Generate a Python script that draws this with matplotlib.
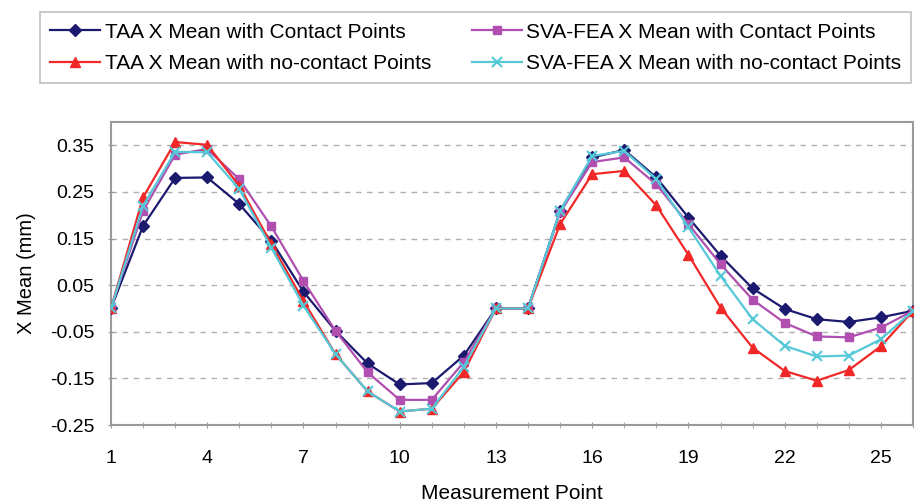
import matplotlib.pyplot as plt
import numpy as np

plt.rcParams['font.family'] = ['Liberation Sans', 'DejaVu Sans']

points = list(range(1, 27))
xticks = [1, 4, 7, 10, 13, 16, 19, 22, 25]
yticks = [0.35, 0.25, 0.15, 0.05, -0.05, -0.15, -0.25]

taa_contact = [0, 0.177, 0.280, 0.281, 0.224, 0.145, 0.036, -0.048, -0.118, -0.163,
               -0.160, -0.101, 0, 0, 0.209, 0.324, 0.340, 0.281, 0.195, 0.113,
               0.043, -0.001, -0.023, -0.029, -0.019, -0.005]
sva_contact = [0, 0.209, 0.330, 0.342, 0.277, 0.176, 0.059, -0.048, -0.137, -0.196,
               -0.196, -0.115, 0, 0, 0.206, 0.314, 0.324, 0.266, 0.181, 0.095,
               0.019, -0.031, -0.060, -0.062, -0.041, -0.005]
taa_nocontact = [0, 0.238, 0.357, 0.351, 0.263, 0.138, 0.016, -0.098, -0.178, -0.221,
                 -0.215, -0.136, 0, 0, 0.181, 0.288, 0.295, 0.221, 0.115, 0.002,
                 -0.084, -0.134, -0.155, -0.132, -0.081, -0.005]
sva_nocontact = [0, 0.220, 0.336, 0.335, 0.256, 0.130, 0.006, -0.098, -0.178, -0.221,
                 -0.215, -0.125, 0, 0, 0.209, 0.327, 0.338, 0.277, 0.174, 0.070,
                 -0.023, -0.080, -0.103, -0.101, -0.066, -0.005]

fig = plt.figure(figsize=(9.14, 5.04), dpi=100)
ax = fig.add_axes([0.1214, 0.1567, 0.8775, 0.6013])

l1, = ax.plot(points, taa_contact, color='#1c1a6e', marker='D', markersize=6, lw=1.6, zorder=3)
l3, = ax.plot(points, sva_contact, color='#b04fb0', marker='s', markersize=6, lw=1.6, zorder=3)
l2, = ax.plot(points, taa_nocontact, color='#f02828', marker='^', markersize=7, lw=1.6, zorder=3)
l4, = ax.plot(points, sva_nocontact, color='#55c8d8', marker='x', markersize=7, mew=1.5, lw=1.6, zorder=3)

ax.set_xlim(1, 26)
ax.set_ylim(-0.25, 0.40)
ax.set_xticks(xticks)
ax.set_xticks(points, minor=True)
ax.set_yticks(yticks)
ax.set_yticklabels(['%.2f' % v for v in yticks])
ax.tick_params(axis='both', which='both', labelsize=14, color='#999999', length=4, direction='inout')
ax.tick_params(axis='x', pad=16)
ax.tick_params(axis='y', pad=10)

for v in yticks[:-1]:
    ax.axhline(v, color='#b0b0b0', lw=1, ls=(0, (4, 4)), zorder=1)

for s in ax.spines.values():
    s.set_color('#9a9a9a')
    s.set_linewidth(1.5)

ax.set_xlabel('Measurement Point', fontsize=15, labelpad=12)
ax.set_ylabel('X Mean (mm)', fontsize=14.5, labelpad=10)

leg = fig.legend([l1, l2, l3, l4],
                 ['TAA X Mean with Contact Points', 'TAA X Mean with no-contact Points',
                  'SVA-FEA X Mean with Contact Points', 'SVA-FEA X Mean with no-contact Points'],
                 ncol=2, loc='upper left', bbox_to_anchor=(0.0438, 0.976),
                 fontsize=15, frameon=True, fancybox=False, borderpad=0.5,
                 handlelength=2.4, handletextpad=0.2, columnspacing=1.95,
                 borderaxespad=0, labelspacing=0.6)
leg.get_frame().set_edgecolor('#b0b0b0')
leg.get_frame().set_linewidth(1.2)

fig.savefig('out.png', dpi=100)
